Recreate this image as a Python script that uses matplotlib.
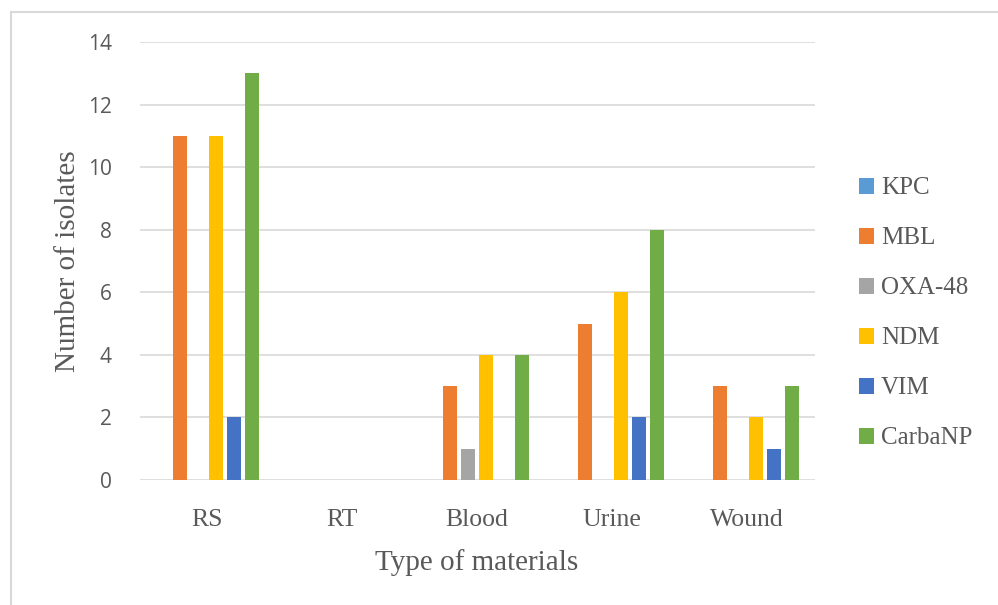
import numpy as np
import matplotlib.pyplot as plt
from matplotlib.lines import Line2D

# Datos: aislamientos por tipo de material
materiales = ['RS', 'RT', 'Blood', 'Urine', 'Wound']
series = ['KPC', 'MBL', 'OXA-48', 'NDM', 'VIM', 'CarbaNP']
kpc = [0, 0, 0, 0, 0]
mbl = [11, 0, 3, 5, 3]
oxa48 = [0, 0, 1, 0, 0]
ndm = [11, 0, 4, 6, 2]
vim = [2, 0, 0, 2, 1]
carbanp = [13, 0, 4, 8, 3]
colores = ['#5B9BD5', '#ED7D31', '#A5A5A5', '#FFC000', '#4472C4', '#70AD47']

valores = [kpc, mbl, oxa48, ndm, vim, carbanp]

W, H = 998, 605
fig = plt.figure(figsize=(W / 100, H / 100), dpi=100)
ax = fig.add_axes([139.5 / W, (H - 480) / H, 675 / W, 438 / H])

fuente_serif = 'Liberation Serif'
gris = '#595959'

x = np.arange(len(materiales))
ancho = 0.8 / len(series)
for i, (nombre, vals, color) in enumerate(zip(series, valores, colores)):
    desplazamiento = (i - (len(series) - 1) / 2) * ancho
    ax.bar(x + desplazamiento, vals, width=ancho * 0.82, color=color,
           label=nombre, zorder=3)

ax.set_xlim(-0.5, len(materiales) - 0.5)
ax.set_ylim(0, 14)
ax.set_yticks(range(0, 15, 2))
ax.set_xticks(x)
ax.set_xticklabels(materiales, fontfamily=fuente_serif, fontsize=18.5, color=gris)
ax.tick_params(axis='y', labelsize=15, labelcolor=gris, length=0, pad=20)
ax.tick_params(axis='x', length=0, pad=21)
for lbl in ax.get_yticklabels():
    lbl.set_fontfamily('Open Sans')

ax.grid(axis='y', color='#D9D9D9', linewidth=1.2, zorder=0)
for s in ax.spines.values():
    s.set_visible(False)

ax.set_xlabel('Type of materials', fontfamily=fuente_serif, fontsize=21,
              color=gris, labelpad=13)
ax.set_ylabel('Number of isolates', fontfamily=fuente_serif, fontsize=21,
              color=gris, labelpad=5)

leg = fig.legend(loc='upper left', bbox_to_anchor=(836 / W, 1 - 155 / H),
                 frameon=False, handlelength=0.6, handleheight=0.6,
                 handletextpad=0.3, labelspacing=1.12,
                 prop={'family': fuente_serif, 'size': 18})
for t in leg.get_texts():
    t.set_color(gris)

# Marco del gráfico (solo lados superior e izquierdo visibles)
fig.add_artist(Line2D([11 / W, 1], [1 - 12 / H, 1 - 12 / H], color='#D9D9D9',
                      linewidth=1.5, transform=fig.transFigure))
fig.add_artist(Line2D([11 / W, 11 / W], [0, 1 - 12 / H], color='#D9D9D9',
                      linewidth=1.5, transform=fig.transFigure))

fig.savefig('out.png', dpi=100)
